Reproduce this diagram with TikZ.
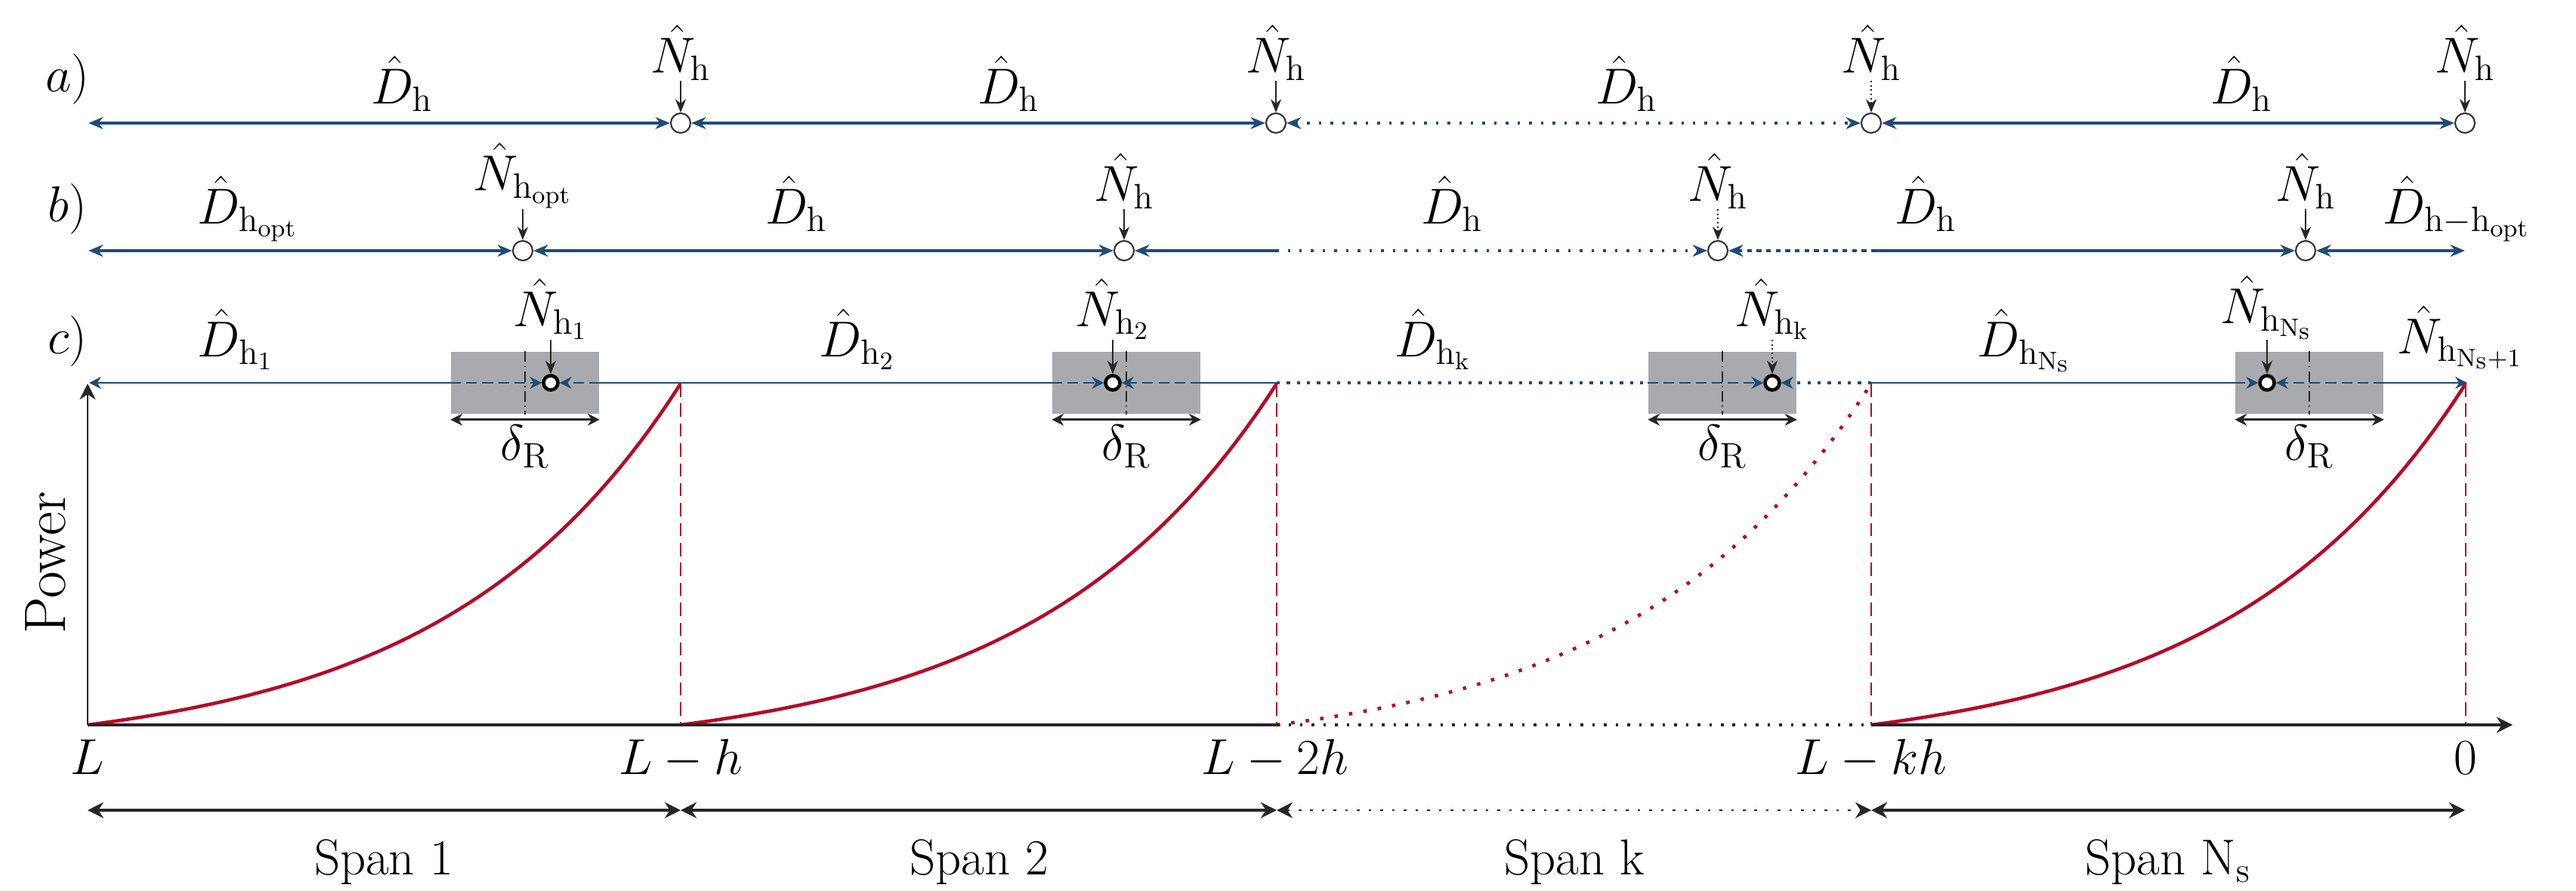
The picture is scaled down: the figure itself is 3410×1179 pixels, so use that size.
\RequirePackage{fix-cm}
\documentclass[tikz,border=0pt]{standalone}
\usepackage{amsmath}
\usetikzlibrary{positioning, arrows.meta}

\definecolor{lineblue}{RGB}{31,76,117}
\definecolor{powred}{RGB}{178,12,40}
\definecolor{regiongray}{RGB}{169,170,173}

\tikzset{
  lbl/.style={font=\fontsize{19}{23}\selectfont, inner sep=0pt},
  hub/.style={circle, draw=black!80, line width=0.6pt, fill=white, minimum size=0.26cm, inner sep=0pt},
  relay/.style={circle, draw=black, line width=1.3pt, fill=white, minimum size=0.19cm, inner sep=0pt},
  regbox/.style={fill=regiongray, minimum width=1.96cm, minimum height=0.82cm, inner sep=0pt},
  dline/.style={draw=lineblue, line width=1pt, >={Stealth[length=5.5pt,width=4.5pt]}},
  cline/.style={draw=lineblue, line width=0.7pt, >={Stealth[length=4.5pt,width=4.5pt]}},
  pointer/.style={draw=black!85, line width=0.6pt, ->, >={Stealth[length=5pt,width=4pt]}},
  spanline/.style={draw=black!85, line width=1pt, >={Stealth[length=6pt,width=6pt]}},
  deltaline/.style={draw=black!85, line width=0.8pt, <->, >={Stealth[length=4.5pt,width=4.5pt]}},
  axisline/.style={draw=black!85, line width=1.1pt, >={Stealth[length=6pt,width=6pt]}},
  centreline/.style={draw=black!85, line width=0.4pt, dash pattern=on 4pt off 1.5pt on 0.5pt off 1.5pt},
  pcurve/.style={draw=powred, line width=1.3pt},
  guide/.style={draw=powred, line width=0.5pt, dash pattern=on 5pt off 2.5pt},
  kdots/.style={dash pattern=on 1pt off 3.4pt},
  cdots/.style={line width=1pt, dash pattern=on 1.2pt off 2.6pt},
  bdots/.style={dash pattern=on 1.8pt off 1.8pt},
  reddots/.style={dash pattern=on 1.3pt off 4.2pt},
  inbox/.style={dash pattern=on 4pt off 2pt},
}

\begin{document}
\begin{tikzpicture}[x=0.01cm, y=-0.01cm]
  \useasboundingbox (0,0) rectangle (3410,1179);

  % a) equal spacing
  \node (ta) [lbl, anchor=base] at (89,122) {$a)$};
  \coordinate (a0) at (117,163);
  \node (a1) [hub] at (901,163) {};
  \node (a2) [hub] at (1689,163) {};
  \node (a3) [hub] at (2477,163) {};
  \node (a4) [hub] at (3263,163) {};
  \draw [dline, <->] (a0) -- (a1);
  \draw [dline, <->] (a1) -- (a2);
  \draw [dline, kdots, <->] (a2) -- (a3);
  \draw [dline, <->] (a3) -- (a4);
  \node (da1) [lbl, anchor=base] at (532,137) {$\hat{D}_{\mathrm{h}}$};
  \node (da2) [lbl, anchor=base] at (1335,137) {$\hat{D}_{\mathrm{h}}$};
  \node (da3) [lbl, anchor=base] at (2153,137) {$\hat{D}_{\mathrm{h}}$};
  \node (da4) [lbl, anchor=base] at (2967,137) {$\hat{D}_{\mathrm{h}}$};
  \node (na1) [lbl, anchor=south] at (901,107) {$\hat{N}_{\mathrm{h}}$};
  \node (na2) [lbl, anchor=south] at (1689,107) {$\hat{N}_{\mathrm{h}}$};
  \node (na3) [lbl, anchor=south] at (2477,107) {$\hat{N}_{\mathrm{h}}$};
  \node (na4) [lbl, anchor=south] at (3263,107) {$\hat{N}_{\mathrm{h}}$};
  \draw [pointer] (na1) -- (a1);
  \draw [pointer] (na2) -- (a2);
  \draw [pointer, densely dotted] (na3) -- (a3);
  \draw [pointer] (na4) -- (a4);

  % b) optimal first hub
  \node (tb) [lbl, anchor=base] at (89,293) {$b)$};
  \coordinate (b0) at (117,332);
  \node (b1) [hub] at (692,332) {};
  \node (b2) [hub] at (1488,332) {};
  \node (b3) [hub] at (2274,332) {};
  \node (b4) [hub] at (3052,332) {};
  \coordinate (b5) at (3263,332);
  \coordinate (bm1) at (1689,332);
  \coordinate (bm2) at (2477,332);
  \draw [dline, <->] (b0) -- (b1);
  \draw [dline, <->] (b1) -- (b2);
  \draw [dline, <-] (b2) -- (bm1);
  \draw [dline, kdots, ->] (bm1) -- (b3);
  \draw [dline, bdots, <-] (b3) -- (bm2);
  \draw [dline, ->] (bm2) -- (b4);
  \draw [dline, <->] (b4) -- (b5);
  \node (db1) [lbl, anchor=base] at (328,296) {$\hat{D}_{\mathrm{h_{opt}}}$};
  \node (db2) [lbl, anchor=base] at (1054,296) {$\hat{D}_{\mathrm{h}}$};
  \node (db3) [lbl, anchor=base] at (1922,296) {$\hat{D}_{\mathrm{h}}$};
  \node (db4) [lbl, anchor=base] at (2549,296) {$\hat{D}_{\mathrm{h}}$};
  \node (db5) [lbl, anchor=base] at (3252,296) {$\hat{D}_{\mathrm{h-h_{opt}}}$};
  \node (nb1) [lbl, anchor=south] at (692,277) {$\hat{N}_{\mathrm{h_{opt}}}$};
  \node (nb2) [lbl, anchor=south] at (1488,277) {$\hat{N}_{\mathrm{h}}$};
  \node (nb3) [lbl, anchor=south] at (2274,277) {$\hat{N}_{\mathrm{h}}$};
  \node (nb4) [lbl, anchor=south] at (3052,277) {$\hat{N}_{\mathrm{h}}$};
  \draw [pointer] (nb1) -- (b1);
  \draw [pointer] (nb2) -- (b2);
  \draw [pointer, densely dotted] (nb3) -- (b3);
  \draw [pointer] (nb4) -- (b4);

  % c) hubs inside the regions
  \node (tc) [lbl, anchor=base] at (89,468) {$c)$};
  \node (r1) [regbox] at (695,507) {};
  \node (r2) [regbox] at (1491,507) {};
  \node (r3) [regbox] at (2280,507) {};
  \node (r4) [regbox] at (3057,507) {};
  \draw [centreline] (r1.north) -- (r1.south);
  \draw [centreline] (r2.north) -- (r2.south);
  \draw [centreline] (r3.north) -- (r3.south);
  \draw [centreline] (r4.north) -- (r4.south);
  \coordinate (c0) at (118,507);
  \coordinate (cm1) at (1690,507);
  \coordinate (cm2) at (2477,507);
  \coordinate (cend) at (3266,507);
  \node (c1) [relay] at (729,507) {};
  \node (c2) [relay] at (1473,507) {};
  \node (c3) [relay] at (2346,507) {};
  \node (c4) [relay] at (3001,507) {};
  \draw [cline, <-] (c0) -- (r1.west |- c0);
  \draw [cline, inbox, ->] (r1.west |- c0) -- (c1);
  \draw [cline, inbox, ->] (r1.east |- c0) -- (c1);
  \draw [cline] (r1.east |- c0) -- (r2.west |- c0);
  \draw [cline, inbox, ->] (r2.west |- c0) -- (c2);
  \draw [cline, inbox, ->] (r2.east |- c0) -- (c2);
  \draw [cline] (r2.east |- c0) -- (cm1);
  \draw [cline, cdots] (cm1) -- (r3.west |- c0);
  \draw [cline, inbox, ->] (r3.west |- c0) -- (c3);
  \draw [cline, cdots, ->] (cm2) -- (c3);
  \draw [cline] (cm2) -- (r4.west |- c0);
  \draw [cline, inbox, ->] (r4.west |- c0) -- (c4);
  \draw [cline, inbox, ->] (r4.east |- c0) -- (c4);
  \draw [cline, ->] (r4.east |- c0) -- (cend);
  \node (dc1) [lbl, anchor=base] at (312,472) {$\hat{D}_{\mathrm{h_1}}$};
  \node (dc2) [lbl, anchor=base] at (1135,472) {$\hat{D}_{\mathrm{h_2}}$};
  \node (dc3) [lbl, anchor=base] at (1897,472) {$\hat{D}_{\mathrm{h_k}}$};
  \node (dc4) [lbl, anchor=base] at (2680,472) {$\hat{D}_{\mathrm{h_{N_s}}}$};
  \node (nc1) [lbl, anchor=south] at (729,450) {$\hat{N}_{\mathrm{h_1}}$};
  \node (nc2) [lbl, anchor=south] at (1473,450) {$\hat{N}_{\mathrm{h_2}}$};
  \node (nc3) [lbl, anchor=south] at (2346,450) {$\hat{N}_{\mathrm{h_k}}$};
  \node (nc4) [lbl, anchor=south] at (3001,450) {$\hat{N}_{\mathrm{h_{N_s}}}$};
  \node (nc5) [lbl, anchor=base] at (3257,468) {$\hat{N}_{\mathrm{h_{N_s+1}}}$};
  \draw [pointer] (nc1) -- (c1);
  \draw [pointer] (nc2) -- (c2);
  \draw [pointer, densely dotted] (nc3) -- (c3);
  \draw [pointer] (nc4) -- (c4);
  \draw [deltaline] ([yshift=-2pt]r1.south west) -- ([yshift=-2pt]r1.south east);
  \draw [deltaline] ([yshift=-2pt]r2.south west) -- ([yshift=-2pt]r2.south east);
  \draw [deltaline] ([yshift=-2pt]r3.south west) -- ([yshift=-2pt]r3.south east);
  \draw [deltaline] ([yshift=-2pt]r4.south west) -- ([yshift=-2pt]r4.south east);
  \node (dr1) [lbl, below=4pt of r1] {$\delta_{\mathrm{R}}$};
  \node (dr2) [lbl, below=4pt of r2] {$\delta_{\mathrm{R}}$};
  \node (dr3) [lbl, below=4pt of r3] {$\delta_{\mathrm{R}}$};
  \node (dr4) [lbl, below=4pt of r4] {$\delta_{\mathrm{R}}$};

  % power plot
  \coordinate (o) at (116,960);
  \coordinate (ytop) at (116,508);
  \coordinate (x2) at (1690,960);
  \coordinate (x3) at (2477,960);
  \coordinate (xend) at (3326,960);
  \draw [guide] (901,508) -- (901,960);
  \draw [guide] (1690,508) -- (1690,960);
  \draw [guide] (2477,508) -- (2477,960);
  \draw [guide] (3264,508) -- (3264,960);
  \draw [pcurve] plot [domain=0:1, samples=60] ({116+785*\x}, {960-452*(exp(2.5*\x)-1)/11.1825});
  \draw [pcurve] plot [domain=0:1, samples=60] ({901+789*\x}, {960-452*(exp(2.5*\x)-1)/11.1825});
  \draw [pcurve, reddots] plot [domain=0:1, samples=60] ({1690+787*\x}, {960-452*(exp(2.5*\x)-1)/11.1825});
  \draw [pcurve] plot [domain=0:1, samples=60] ({2477+787*\x}, {960-452*(exp(2.5*\x)-1)/11.1825});
  \draw [axisline, line width=0.6pt, ->] (o) -- (ytop);
  \draw [axisline] (o) -- (x2);
  \draw [axisline, kdots] (x2) -- (x3);
  \draw [axisline, ->] (x3) -- (xend);
  \node (pw) [lbl, font=\fontsize{22}{26}\selectfont, rotate=90] at (60,745) {Power};
  \node (t0) [lbl, anchor=base] at (116,1025) {$L$};
  \node (t1) [lbl, anchor=base] at (901,1025) {$L-h$};
  \node (t2) [lbl, anchor=base] at (1688,1025) {$L-2h$};
  \node (t3) [lbl, anchor=base] at (2477,1025) {$L-kh$};
  \node (t4) [lbl, anchor=base] at (3264,1025) {$0$};

  % spans
  \coordinate (s0) at (116,1073);
  \coordinate (s1) at (901,1073);
  \coordinate (s2) at (1690,1073);
  \coordinate (s3) at (2477,1073);
  \coordinate (s4) at (3263,1073);
  \draw [spanline, <->] (s0) -- (s1);
  \draw [spanline, <->] (s1) -- (s2);
  \draw [spanline, line width=0.6pt, kdots, <->] (s2) -- (s3);
  \draw [spanline, <->] (s3) -- (s4);
  \node (sp1) [lbl, anchor=base] at (508,1158) {Span 1};
  \node (sp2) [lbl, anchor=base] at (1296,1158) {Span 2};
  \node (sp3) [lbl, anchor=base] at (2084,1158) {Span k};
  \node (sp4) [lbl, anchor=base] at (2870,1158) {Span $\mathrm{N_s}$};
\end{tikzpicture}
\end{document}
